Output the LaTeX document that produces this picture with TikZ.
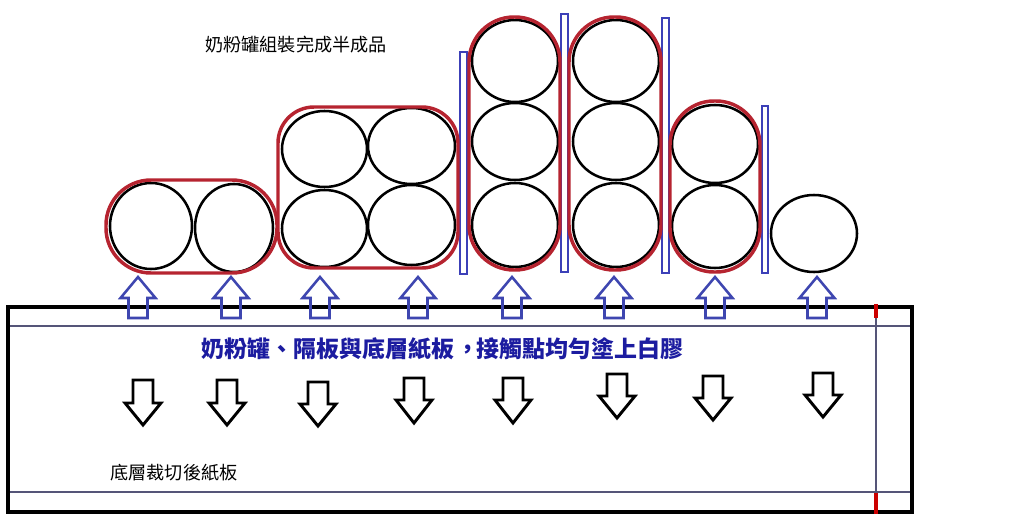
\documentclass[tikz,border=0pt]{standalone}
\usepackage{fontspec}
\newfontfamily\cjk[Script=CJK, Language=Chinese Traditional]{Noto Sans CJK TC}
\definecolor{canred}{RGB}{182,36,48}
\definecolor{sepblue}{RGB}{60,64,184}
\definecolor{arrblue}{RGB}{62,70,176}
\definecolor{txtblue}{RGB}{28,28,160}
\definecolor{thinline}{RGB}{85,85,120}
\tikzset{
  can/.style={draw=black, line width=1.9pt},
  wrap/.style={draw=canred, line width=2.6pt},
  sepbar/.style={draw=sepblue, line width=1.5pt, fill=white},
  uparr/.style={draw=arrblue, line width=1.9pt, line join=miter},
  downarr/.style={draw=black, line width=2.2pt, line join=miter},
  board/.style={draw=black, line width=3pt},
  thin/.style={draw=thinline, line width=0.8pt},
  redmark/.style={draw=red!80!black, line width=2.4pt}
}
% rounded box: x1 y1 (top-left), x2 y2 (bottom-right), radius
\newcommand{\wrapbox}[5]{%
  \draw[wrap] (#1+#5,#2) -- (#3-#5,#2) arc[start angle=270, end angle=360, radius=#5]
    -- (#3,#4-#5) arc[start angle=0, end angle=90, radius=#5]
    -- (#1+#5,#4) arc[start angle=90, end angle=180, radius=#5]
    -- (#1,#2+#5) arc[start angle=180, end angle=270, radius=#5] -- cycle;}
\newcommand{\uparrowshape}[1]{%
  \draw[uparr] (#1,277) -- (#1+17.5,298) -- (#1+9.5,298) -- (#1+9.5,318) -- (#1-9.5,318) -- (#1-9.5,298) -- (#1-17.5,298) -- cycle;}
\newcommand{\downarrowshape}[4]{%
  \draw[downarr] (#1-10,#2) -- (#1+10,#2) -- (#1+10,#3) -- (#1+18,#3) -- (#1,#4) -- (#1-18,#3) -- (#1-10,#3) -- cycle;}
\newcommand{\midcomma}{\makebox[1em][l]{\hspace*{0.12em}，}}
\begin{document}
\begin{tikzpicture}[x=0.75pt,y=-0.75pt]
\useasboundingbox (0,0) rectangle (1024,525);
\fill[white] (0,0) rectangle (1024,525);

% separators
\draw[sepbar] (460,52) rectangle (467,274);
\draw[sepbar] (561,14) rectangle (568,272);
\draw[sepbar] (662,18) rectangle (669,273);
\draw[sepbar] (762,106) rectangle (768,273);

% cans
\draw[can] (151,226) ellipse [x radius=41, y radius=43];
\draw[can] (234,228) ellipse [x radius=39, y radius=44];
\draw[can] (324.5,149) ellipse [x radius=42.5, y radius=38];
\draw[can] (324.5,228.5) ellipse [x radius=42.5, y radius=38.5];
\draw[can] (411.5,146) ellipse [x radius=43.5, y radius=38];
\draw[can] (411.5,225) ellipse [x radius=43.5, y radius=40];
\draw[can] (515,61) ellipse [x radius=43, y radius=41];
\draw[can] (515,141.5) ellipse [x radius=43, y radius=38.5];
\draw[can] (515,225) ellipse [x radius=43, y radius=42];
\draw[can] (616,61) ellipse [x radius=43, y radius=41];
\draw[can] (616,141.5) ellipse [x radius=43, y radius=38.5];
\draw[can] (616,225) ellipse [x radius=43, y radius=42];
\draw[can] (715,144) ellipse [x radius=43, y radius=39];
\draw[can] (715,226.5) ellipse [x radius=43, y radius=41.5];
\draw[can] (814,233.5) ellipse [x radius=43, y radius=38.5];

% red wraps
\wrapbox{106}{180}{277}{273}{45}
\wrapbox{278}{107}{458}{268}{36}
\wrapbox{469}{17}{560}{270}{45}
\wrapbox{569}{17}{661}{270}{45}
\wrapbox{670}{101}{760}{272}{44}

% board
\draw[thin] (8,326) -- (912,326);
\draw[thin] (8,492) -- (912,492);
\draw[thin] (876,307) -- (876,512);
\draw[board] (8,307) rectangle (912,512);
\draw[redmark] (876,304) -- (876,318);
\draw[redmark] (876,493) -- (876,514);

% up arrows
\foreach \x in {138,231,320,418,512,614,715,817} {\uparrowshape{\x}}

% down arrows
\downarrowshape{143}{380}{403}{425}
\downarrowshape{227}{380}{403}{425}
\downarrowshape{318}{382}{404}{426}
\downarrowshape{414}{378}{400}{423}
\downarrowshape{513}{378}{400}{423}
\downarrowshape{617}{374}{396}{418}
\downarrowshape{713}{376}{398}{420}
\downarrowshape{823}{373}{395}{417}

% texts
\node[inner sep=0, font=\cjk\fontsize{13.6pt}{15pt}\selectfont] (title) at (296,45) {奶粉罐組裝完成半成品};
\node[inner sep=0, text=txtblue, font=\cjk\bfseries\fontsize{17.2pt}{19pt}\selectfont] (glue) at (442.5,349) {奶粉罐、隔板與底層紙板\midcomma 接觸點均勻塗上白膠};
\node[inner sep=0, font=\cjk\fontsize{13.6pt}{15pt}\selectfont] (base) at (174,473) {底層裁切後紙板};
\end{tikzpicture}
\end{document}
